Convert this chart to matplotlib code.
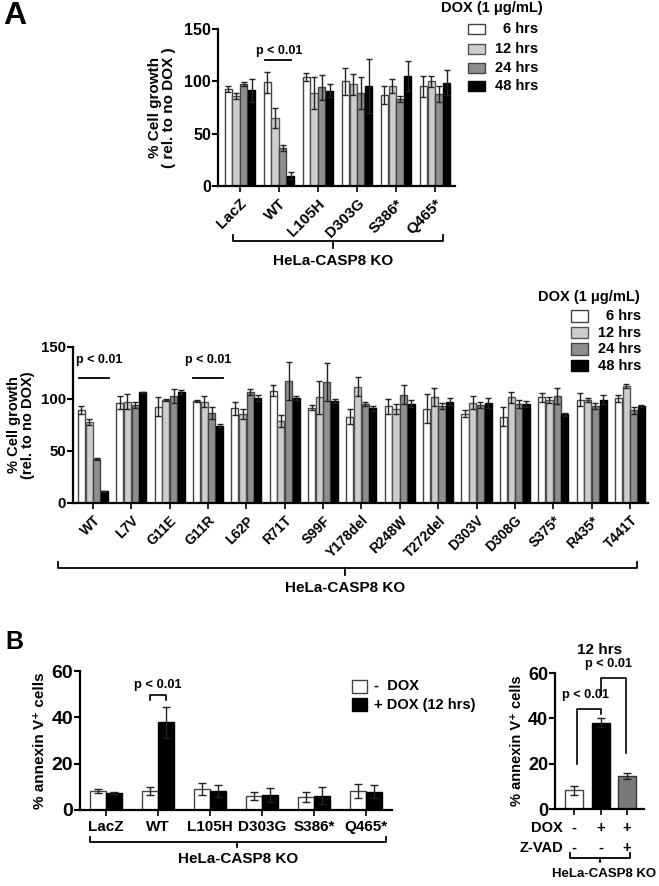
import matplotlib
matplotlib.use('Agg')
import matplotlib.pyplot as plt
from matplotlib.patches import Rectangle
from matplotlib.lines import Line2D
import numpy as np

plt.rcParams['font.family'] = ['Liberation Sans', 'DejaVu Sans']
plt.rcParams['font.weight'] = 'bold'
plt.rcParams['axes.labelweight'] = 'bold'

# ---------------- DATA ----------------
series_labels = ['6 hrs', '12 hrs', '24 hrs', '48 hrs']

a1_groups = ['LacZ', 'WT', 'L105H', 'D303G', 'S386*', 'Q465*']
a1_6h = [92.5, 99, 104, 100, 87, 95.5]
a1_6h_err = [3, 10, 4, 13, 9, 10]
a1_12h = [86, 65, 89, 97, 95.5, 100]
a1_12h_err = [3, 10, 15, 10, 7, 5]
a1_24h = [97.5, 36, 94.5, 89, 83, 88]
a1_24h_err = [2, 3, 12, 15, 3, 8]
a1_48h = [91.5, 10, 91, 95.5, 105, 98.5]
a1_48h_err = [11, 3, 6, 26, 14, 12]

a2_groups = ['WT', 'L7V', 'G11E', 'G11R', 'L62P', 'R71T', 'S99F', 'Y178del',
             'R248W', 'T272del', 'D303V', 'D308G', 'S375*', 'R435*', 'T441T']
a2_6h = [89.5, 96.5, 92.5, 98.5, 91, 108, 91.5, 83, 93, 90.5, 86, 83, 101.5, 99.5, 100.5]
a2_6h_err = [3.5, 6, 9, 1, 6, 5, 2.5, 7, 7, 14, 3, 9, 4.5, 6, 3.5]
a2_12h = [78, 97.5, 99, 97.5, 85.5, 79, 101.5, 112, 90.5, 102, 96.5, 101.5, 99, 99, 112.8]
a2_12h_err = [3, 7, 1, 5, 5, 6, 16, 9, 5, 9, 6.5, 5, 2.5, 2, 2]
a2_24h = [42, 94, 103, 86.5, 106.5, 117.5, 116.5, 95, 104, 93, 94, 95, 103, 93.5, 89]
a2_24h_err = [1, 3, 7, 6, 3, 18, 18, 2, 9, 3, 3, 4, 8, 3, 3]
a2_48h = [11.5, 106.5, 107, 74.5, 101, 101, 98, 91, 95.5, 97.5, 96, 95, 85.5, 99.5, 93.5]
a2_48h_err = [0.5, 0.5, 2, 1, 3, 2, 2, 2.5, 3.5, 3, 4.5, 3, 1.5, 4, 1]

b1_groups = ['LacZ', 'WT', 'L105H', 'D303G', 'S386*', 'Q465*']
b1_series = ['-  DOX', '+ DOX (12 hrs)']
b1_nodox = [8.2, 8.2, 8.9, 6.0, 5.5, 8.3]
b1_nodox_err = [0.7, 1.8, 2.6, 1.6, 2.1, 3.0]
b1_dox = [7.2, 37.8, 8.3, 6.5, 6.2, 7.9]
b1_dox_err = [0.4, 6.8, 2.6, 2.9, 3.6, 2.7]

b2_dox = ['-', '+', '+']
b2_zvad = ['-', '-', '+']
b2_vals = [8.2, 38, 14.5]
b2_errs = [1.9, 2.0, 1.3]

# ---------------- STYLE ----------------
W, H = 659, 886
fig = plt.figure(figsize=(6.59, 8.86), dpi=100)

fills = ['white', '#cdcdcd', '#8e8e8e', 'black']
edges = ['#444444', '#555555', '#444444', 'black']
ecol = '#222222'


def fx(x):
    return x / W


def fy(y):
    return 1 - y / H


def add_ax(x0, y0, x1, y1):
    return fig.add_axes([fx(x0), fy(y1), fx(x1) - fx(x0), fy(y0) - fy(y1)])


def style(ax, ysize):
    for s in ['top', 'right']:
        ax.spines[s].set_visible(False)
    for s in ['left', 'bottom']:
        ax.spines[s].set_linewidth(1.6)
    ax.tick_params(axis='y', direction='out', length=4, width=1.5, labelsize=ysize, pad=1)
    ax.tick_params(axis='x', direction='out', length=4, width=1.2)
    for lab in ax.get_yticklabels():
        lab.set_fontweight('bold')


def fline(xs, ys, lw=1.3):
    fig.add_artist(Line2D([fx(x) for x in xs], [fy(y) for y in ys],
                          transform=fig.transFigure, color='black', lw=lw))


def fbox(x, y, w, h, fc, ec):
    fig.add_artist(Rectangle((fx(x), fy(y + h)), w / W, h / H, transform=fig.transFigure,
                             facecolor=fc, edgecolor=ec, lw=1.0))


def bracket(x0, x1, y, xc, up=6, down=7):
    fline([x0, x0, x1, x1], [y - up, y, y, y - up])
    fline([xc, xc], [y, y + down])


def grouped(ax, means, errs, width):
    n = len(means)
    x = np.arange(len(means[0]))
    for i in range(n):
        off = (i - (n - 1) / 2) * width
        ax.bar(x + off, means[i], width * 0.92, color=fills[i], edgecolor=edges[i],
               linewidth=1.0, zorder=2)
        ax.errorbar(x + off, means[i], yerr=errs[i], fmt='none', ecolor=ecol,
                    elinewidth=1.0, capsize=2.2, capthick=1.0, zorder=3)
    return x


# ---------------- PANEL A (top) ----------------
ax1 = add_ax(218, 29, 455, 186)
style(ax1, 11.5)
x = grouped(ax1, [a1_6h, a1_12h, a1_24h, a1_48h],
            [a1_6h_err, a1_12h_err, a1_24h_err, a1_48h_err], 0.2)
ax1.set_xlim(-0.56, 5.51)
ax1.set_ylim(0, 150)
ax1.set_yticks([0, 50, 100, 150])
ax1.set_xticks(x)
ax1.set_xticklabels(a1_groups, rotation=45, ha='right', va='top', rotation_mode='anchor',
                    fontsize=11, fontweight='bold')
ax1.set_ylabel('% Cell growth\n( rel. to no DOX )', fontsize=11, fontweight='bold', labelpad=6,
               linespacing=1.0)
ax1.plot([0.64, 1.31], [120, 120], color='black', lw=1.3, clip_on=False)
ax1.text(1.0, 129, 'p < 0.01', ha='center', va='center', fontsize=9, fontweight='bold')

fig.text(fx(3), fy(16), 'A', fontsize=23, fontweight='bold', va='center', ha='left')

fig.text(fx(492), fy(8), 'DOX (1 \u03bcg/mL)', fontsize=10.5, fontweight='bold',
         ha='center', va='center')
for i, (lab, yy) in enumerate(zip(series_labels, [29, 49, 68, 86])):
    fbox(468, yy - 5, 17, 10, fills[i], edges[i])
    fig.text(fx(538), fy(yy), lab, fontsize=10.5, fontweight='bold', ha='right', va='center')

bracket(233, 443, 241, 333)
fig.text(fx(333), fy(261), 'HeLa-CASP8 KO', fontsize=11, fontweight='bold',
         ha='center', va='center')

# ---------------- PANEL A (middle) ----------------
ax2 = add_ax(73, 347, 648, 503)
style(ax2, 10.8)
x = grouped(ax2, [a2_6h, a2_12h, a2_24h, a2_48h],
            [a2_6h_err, a2_12h_err, a2_24h_err, a2_48h_err], 0.2)
ax2.set_xlim(-0.52, 14.47)
ax2.set_ylim(0, 150)
ax2.set_yticks([0, 50, 100, 150])
ax2.set_xticks(x)
ax2.set_xticklabels(a2_groups, rotation=45, ha='right', va='top', rotation_mode='anchor',
                    fontsize=10, fontweight='bold')
ax2.set_ylabel('% Cell growth\n(rel. to no DOX)', fontsize=10.5, fontweight='bold', labelpad=4,
               linespacing=1.0)
ax2.plot([-0.37, 0.42], [120, 120], color='black', lw=1.3, clip_on=False)
ax2.text(0.17, 137.5, 'p < 0.01', ha='center', va='center', fontsize=9, fontweight='bold')
ax2.plot([2.62, 3.39], [120, 120], color='black', lw=1.3, clip_on=False)
ax2.text(3.0, 137.5, 'p < 0.01', ha='center', va='center', fontsize=9, fontweight='bold')

fig.text(fx(589), fy(297), 'DOX (1 \u03bcg/mL)', fontsize=10.5, fontweight='bold',
         ha='center', va='center')
for i, (lab, yy) in enumerate(zip(series_labels, [316, 333, 349, 366])):
    fbox(571, yy - 5.5, 17, 11, fills[i], edges[i])
    fig.text(fx(641), fy(yy), lab, fontsize=10.5, fontweight='bold', ha='right', va='center')

bracket(58, 637, 568, 345)
fig.text(fx(345), fy(588), 'HeLa-CASP8 KO', fontsize=11, fontweight='bold',
         ha='center', va='center')

# ---------------- PANEL B (left) ----------------
ax3 = add_ax(80, 671, 392, 810)
style(ax3, 14)
xb = np.arange(len(b1_groups))
wb = 0.32
ax3.bar(xb - wb / 2, b1_nodox, wb * 0.95, color='white', edgecolor='#444444', lw=1.0, zorder=2)
ax3.errorbar(xb - wb / 2, b1_nodox, yerr=b1_nodox_err, fmt='none', ecolor=ecol,
             elinewidth=1.0, capsize=3, capthick=1.0, zorder=3)
ax3.bar(xb + wb / 2, b1_dox, wb * 0.95, color='black', edgecolor='black', lw=1.0, zorder=2)
ax3.errorbar(xb + wb / 2, b1_dox, yerr=b1_dox_err, fmt='none', ecolor=ecol,
             elinewidth=1.0, capsize=3, capthick=1.0, zorder=3)
ax3.set_xlim(-0.5, 5.5)
ax3.set_ylim(0, 60)
ax3.set_yticks([0, 20, 40, 60])
ax3.set_xticks(xb)
ax3.set_xticklabels(b1_groups, fontsize=11, fontweight='bold')
ax3.tick_params(axis='x', pad=3)
ax3.set_ylabel('% annexin V\u207a cells', fontsize=11, fontweight='bold', labelpad=3)
ax3.plot([0.84, 0.84, 1.16, 1.16], [47.5, 49.6, 49.6, 47.5], color='black', lw=1.2,
         clip_on=False)
ax3.text(1.0, 54, 'p < 0.01', ha='center', va='center', fontsize=9.3, fontweight='bold')

fig.text(fx(5), fy(642), 'B', fontsize=18, fontweight='bold', va='center', ha='left')

fbox(352, 680, 15, 13, 'white', '#444444')
fbox(352, 698, 15, 13, 'black', 'black')
fig.text(fx(374), fy(686.5), b1_series[0], fontsize=10.5, fontweight='bold', va='center')
fig.text(fx(374), fy(704.5), b1_series[1], fontsize=10.5, fontweight='bold', va='center')

bracket(90, 386, 842, 237, up=5, down=5)
fig.text(fx(238), fy(859), 'HeLa-CASP8 KO', fontsize=11, fontweight='bold',
         ha='center', va='center')

# ---------------- PANEL B (right) ----------------
ax4 = add_ax(555, 673, 644, 809)
style(ax4, 13)
xr = np.arange(len(b2_vals))
ax4.bar(xr, b2_vals, 0.68, color=['white', 'black', '#7a7a7a'],
        edgecolor=['#444444', 'black', '#333333'], lw=1.0, zorder=2)
ax4.errorbar(xr, b2_vals, yerr=b2_errs, fmt='none', ecolor=ecol, elinewidth=1.0,
             capsize=3, capthick=1.0, zorder=3)
ax4.set_xlim(-0.72, 2.64)
ax4.set_ylim(0, 60)
ax4.set_yticks([0, 20, 40, 60])
ax4.set_xticks(xr)
ax4.set_xticklabels([])
ax4.set_ylabel('% annexin V\u207a cells', fontsize=10.5, fontweight='bold', labelpad=3)
ax4.set_title('12 hrs', fontsize=11, fontweight='bold', pad=14)
ax4.plot([0.1, 0.1, 1.0, 1.0], [20, 44, 44, 42], color='black', lw=1.2, clip_on=False)
ax4.text(0.45, 50.5, 'p < 0.01', ha='center', va='center', fontsize=9.2, fontweight='bold')
ax4.plot([1.0, 1.0, 1.95, 1.95], [50.5, 58, 58, 24.5], color='black', lw=1.2, clip_on=False)
ax4.text(1.3, 64, 'p < 0.01', ha='center', va='center', fontsize=9.2, fontweight='bold')

fig.text(fx(563), fy(828), 'DOX', fontsize=10.5, fontweight='bold', ha='right', va='center')
fig.text(fx(563), fy(848), 'Z-VAD', fontsize=10.5, fontweight='bold', ha='right', va='center')
for i in range(3):
    xp = 574 + i * 26.5
    fig.text(fx(xp), fy(828), b2_dox[i], fontsize=10.5, fontweight='bold', ha='center', va='center')
    fig.text(fx(xp), fy(848), b2_zvad[i], fontsize=10.5, fontweight='bold', ha='center', va='center')

bracket(570, 630, 858, 600, up=5, down=4)
fig.text(fx(604), fy(874), 'HeLa-CASP8 KO', fontsize=9.5, fontweight='bold',
         ha='center', va='center')

fig.savefig('out.png', dpi=100)
